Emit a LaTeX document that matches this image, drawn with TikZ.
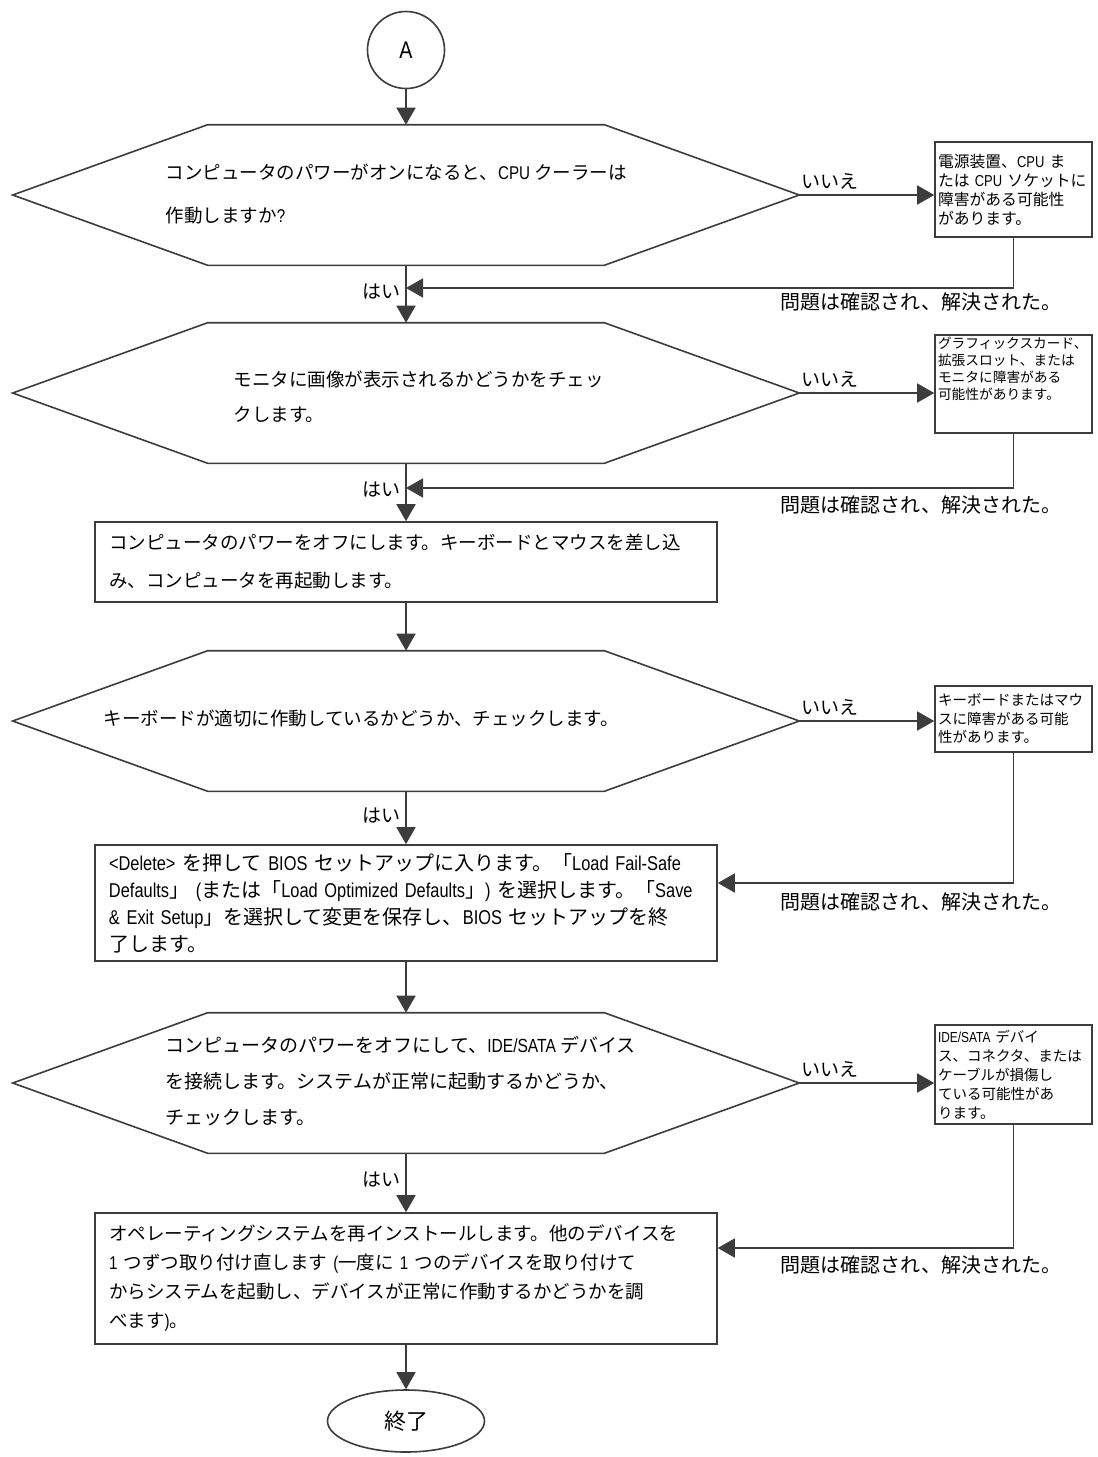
\documentclass[tikz,border=0pt]{standalone}
\usepackage{fontspec}
\setmainfont{Noto Sans CJK JP}
\newfontfamily\latn[FakeStretch=0.82]{Liberation Sans}
\newcommand{\en}[1]{{\latn #1}}
\definecolor{linie}{RGB}{60,60,60}
\usetikzlibrary{arrows.meta}
\usetikzlibrary{shapes.geometric}

\begin{document}
\begin{tikzpicture}[x=1pt, y=-1pt, >={Triangle[length=17pt,width=19pt]}, line width=1.6pt, color=linie,
  every node/.style={inner sep=0pt, text=black},
  kreis/.style={circle, draw=linie, minimum size=77pt, font=\fontsize{24}{24}\selectfont\latn},
  sechseck/.style={rectangle, minimum width=785pt, minimum height=139pt},
  frage/.style={anchor=west, align=left, font=\fontsize{18.5}{#1}\selectfont},
  kasten/.style={rectangle, draw=linie, minimum width=622pt, text width=594pt, inner xsep=14pt, align=left},
  hinweis/.style={rectangle, draw=linie, minimum width=157pt, text width=151pt, inner xsep=3pt, align=left},
  ende/.style={ellipse, draw=linie, minimum width=157pt, minimum height=62pt, font=\fontsize{22}{22}\selectfont},
  ja/.style={pos=0.45, anchor=east, xshift=-5pt, font=\fontsize{19}{19}\selectfont},
  nein/.style={pos=0.23, anchor=south, yshift=5pt, font=\fontsize{19}{19}\selectfont},
  fix/.style={font=\fontsize{20}{20}\selectfont}]
\fill [white] (0,0) rectangle (1098,1457);
\useasboundingbox (0,0) rectangle (1098,1457);

\node [kreis] (kreisA) at (406,50) {A};

\node [sechseck] (6eck1) at (406,195) {};
\node [sechseck] (6eck2) at (406,393) {};
\node [sechseck] (6eck3) at (406,721) {};
\node [sechseck] (6eck4) at (406,1083) {};
\draw [-](6eck1.west) -- ([xshift=195pt]6eck1.north west) -- ([xshift=-195pt]6eck1.north east) -- (6eck1.east) -- ([xshift=-195pt]6eck1.south east) -- ([xshift=195pt]6eck1.south west) -- cycle;
\draw [-](6eck2.west) -- ([xshift=195pt]6eck2.north west) -- ([xshift=-195pt]6eck2.north east) -- (6eck2.east) -- ([xshift=-195pt]6eck2.south east) -- ([xshift=195pt]6eck2.south west) -- cycle;
\draw [-](6eck3.west) -- ([xshift=195pt]6eck3.north west) -- ([xshift=-195pt]6eck3.north east) -- (6eck3.east) -- ([xshift=-195pt]6eck3.south east) -- ([xshift=195pt]6eck3.south west) -- cycle;
\draw [-](6eck4.west) -- ([xshift=195pt]6eck4.north west) -- ([xshift=-195pt]6eck4.north east) -- (6eck4.east) -- ([xshift=-195pt]6eck4.south east) -- ([xshift=195pt]6eck4.south west) -- cycle;

\node [frage=43pt] (text1) at (165,194) {コンピュータのパワーがオンになると、\en{CPU} クーラーは\\作動しますか\en{?}};
\node [frage=35pt] (text2) at (233,397) {モニタに画像が表示されるかどうかをチェッ\\クします。};
\node [frage=20pt] (text3) at (103,718) {キーボードが適切に作動しているかどうか、チェックします。};
\node [frage=36pt, font=\fontsize{19}{36}\selectfont] (text4) at (165,1081) {コンピュータのパワーをオフにして、\en{IDE/SATA} デバイス\\を接続します。システムが正常に起動するかどうか、\\チェックします。};

\node [kasten, minimum height=80pt, font=\fontsize{18.5}{38}\selectfont] (rect1) at (406,562) {コンピュータのパワーをオフにします。キーボードとマウスを差し込\\み、コンピュータを再起動します。};
\node [kasten, minimum height=116pt, font=\fontsize{20}{27}\selectfont] (rect2) at (406,903) {\en{<Delete>}~を押して~\en{BIOS}~セットアップに入ります。「\en{Load~Fail-Safe}\\\en{Defaults}」~\en{(}または「\en{Load~Optimized~Defaults}」\en{)}~を選択します。「\en{Save}\\\en{\&~Exit~Setup}」を選択して変更を保存し、\en{BIOS}~セットアップを終\\了します。};
\node [kasten, minimum height=131pt, font=\fontsize{18.5}{29}\selectfont] (rect3) at (406,1278.5) {オペレーティングシステムを再インストールします。他のデバイスを\\\en{1}~つずつ取り付け直します~\en{(}一度に~\en{1}~つのデバイスを取り付けて\\からシステムを起動し、デバイスが正常に作動するかどうかを調\\べます\en{)}。};

\node [ende] (ende) at (406,1421) {終了};

\node [hinweis, minimum height=95pt, font=\fontsize{15.8}{19}\selectfont] (info1) at (1013.5,189.5) {電源装置、\en{CPU}~ま\\たは~\en{CPU}~ソケットに\\障害がある可能性\\があります。};
\node [hinweis, minimum height=98pt, font=\fontsize{13.7}{17}\selectfont] (info2) at (1013.5,384) {グラフィックスカード、\\拡張スロット、または\\モニタに障害がある\\可能性があります。\\[14pt]\mbox{}};
\node [hinweis, minimum height=66pt, font=\fontsize{14.5}{18.5}\selectfont] (info3) at (1013.5,719) {キーボードまたはマウ\\スに障害がある可能\\性があります。};
\node [hinweis, minimum height=99pt, font=\fontsize{14.5}{19}\selectfont] (info4) at (1013.5,1074.5) {\en{IDE/SATA}~デバイ\\ス、コネクタ、または\\ケーブルが損傷し\\ている可能性があ\\ります。};

\draw [->] (kreisA) -- (6eck1);
\draw [->] (6eck1) -- node [ja] {はい} (6eck2);
\draw [->] (6eck2) -- node [ja] {はい} (rect1);
\draw [->] (rect1) -- (6eck3);
\draw [->] (6eck3) -- node [ja] {はい} (rect2);
\draw [->] (rect2) -- (6eck4);
\draw [->] (6eck4) -- node [ja] {はい} (rect3);
\draw [->] (rect3) -- (ende);

\draw [->] (6eck1.east) -- node [nein] {いいえ} (6eck1.east -| info1.west);
\draw [->] (6eck2.east) -- node [nein] {いいえ} (6eck2.east -| info2.west);
\draw [->] (6eck3.east) -- node [nein] {いいえ} (6eck3.east -| info3.west);
\draw [->] (6eck4.east) -- node [nein] {いいえ} (6eck4.east -| info4.west);

\coordinate (ein1) at (406,288);
\coordinate (ein2) at (406,488);
\draw [->] (info1.south) |- (ein1);
\draw [->] (info2.south) |- (ein2);
\draw [->] (info3.south) |- ([yshift=20pt]rect2.east);
\draw [->] (info4.south) |- ([yshift=30.5pt]rect3.east);

\node [fix] (fix1) at (921,302) {問題は確認され、解決された。};
\node [fix] (fix2) at (921,505) {問題は確認され、解決された。};
\node [fix] (fix3) at (921,902) {問題は確認され、解決された。};
\node [fix] (fix4) at (921,1265) {問題は確認され、解決された。};
\end{tikzpicture}
\end{document}
